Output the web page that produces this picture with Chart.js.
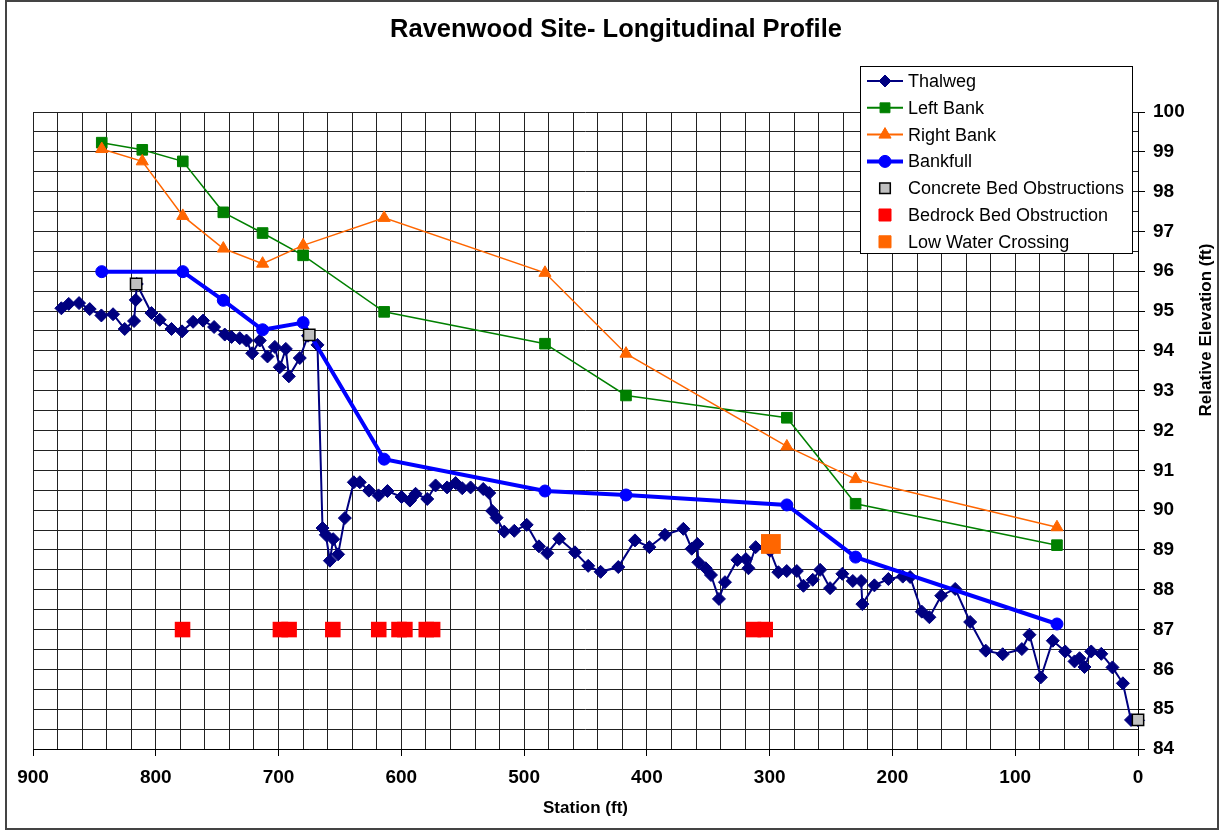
<!DOCTYPE html>
<html>
<head>
<meta charset="utf-8">
<script src="https://cdn.jsdelivr.net/npm/chart.js@4.4.1/dist/chart.umd.min.js"></script>
<style>
  html, body { margin: 0; padding: 0; background: #fff; }
  canvas { display: block; }
</style>
</head>
<body>
<canvas id="profileChart" width="1223" height="832"></canvas>
<script>
// Thalweg survey (station ft, relative elevation ft)
const thalwegStation = [
  876.9, 870.9, 862.5, 853.8, 844.3, 834.8, 825.3, 817.7, 816.3, 815.5,
  803.5, 796.8, 787.2, 778.6, 769.6, 761.5, 752.5, 743.8, 738.3, 731.6,
  726.1, 721.5, 715.3, 709.0, 703.0, 699.0, 694.1, 691.6, 682.7, 676.0,
  668.3, 664.2, 661.5, 658.2, 655.5, 651.5, 646.0, 638.7, 633.8, 626.4,
  618.6, 611.3, 599.8, 593.0, 588.4, 578.9, 572.1, 562.7, 555.8, 550.4,
  543.6, 533.3, 528.4, 526.0, 522.4, 516.2, 508.0, 497.9, 487.9, 481.2,
  471.4, 458.6, 447.8, 437.7, 423.3, 409.7, 398.0, 385.3, 370.3, 363.5,
  358.9, 358.1, 352.1, 347.8, 341.3, 336.4, 326.3, 319.4, 317.3, 311.4,
  299.7, 292.9, 286.1, 277.9, 272.5, 264.9, 258.9, 250.8, 240.8, 232.3,
  225.5, 224.5, 214.7, 203.3, 191.6, 185.6, 176.1, 169.9, 160.3, 148.9,
  136.7, 124.0, 110.2, 94.6, 88.4, 79.1, 69.4, 59.3, 51.7, 47.6,
  43.6, 38.1, 29.9, 20.8, 12.3, 5.7, 0
];
const thalwegElev = [
  95.07, 95.18, 95.20, 95.05, 94.89, 94.92, 94.55, 94.75, 95.28, 95.68,
  94.95, 94.78, 94.55, 94.49, 94.73, 94.76, 94.60, 94.41, 94.35, 94.32,
  94.26, 93.94, 94.26, 93.86, 94.10, 93.59, 94.05, 93.36, 93.82, 94.38,
  94.15, 89.55, 89.38, 88.73, 89.27, 88.89, 89.80, 90.70, 90.70, 90.49,
  90.37, 90.48, 90.33, 90.24, 90.41, 90.28, 90.62, 90.57, 90.68, 90.55,
  90.57, 90.53, 90.43, 89.98, 89.81, 89.46, 89.48, 89.63, 89.09, 88.92,
  89.28, 88.94, 88.60, 88.45, 88.57, 89.24, 89.07, 89.38, 89.53, 89.03,
  89.15, 88.69, 88.54, 88.37, 87.77, 88.19, 88.75, 88.77, 88.54, 89.07,
  88.98, 88.44, 88.47, 88.47, 88.10, 88.25, 88.50, 88.04, 88.40, 88.22,
  88.22, 87.64, 88.11, 88.27, 88.33, 88.32, 87.45, 87.31, 87.85, 88.02,
  87.19, 86.47, 86.38, 86.51, 86.87, 85.80, 86.72, 86.45, 86.20, 86.28,
  86.06, 86.45, 86.39, 86.05, 85.65, 84.73, 84.72
];

// Bank survey stations
const bankStation = [844, 811, 778, 745, 713, 680, 614, 483, 417, 286, 230, 66];
const leftBankElev = [99.23, 99.05, 98.76, 97.48, 96.96, 96.40, 94.98, 94.18, 92.88, 92.32, 90.16, 89.12];
const rightBankElev = [99.07, 98.76, 97.39, 96.57, 96.19, 96.65, 97.34, 95.96, 93.93, 91.60, 90.78, 89.57];

const bankfullStation = [844, 778, 745, 713, 680, 614, 483, 417, 286, 230, 66];
const bankfullElev = [95.99, 95.99, 95.27, 94.53, 94.71, 91.28, 90.48, 90.38, 90.13, 88.82, 87.14];

// Obstructions
const concreteStation = [816, 675, 0];
const concreteElev = [95.68, 94.40, 84.73];
const bedrockStation = [778.2, 698.5, 691.4, 655.8, 618.4, 601.9, 597.1, 579.7, 574.5, 313.2, 303.6];
const bedrockElev = [87, 87, 87, 87, 87, 87, 87, 87, 87, 87, 87];
const lowWaterStation = [299];
const lowWaterElev = [89.15];

// Axis tick labels
const stationTicks = [900, 800, 700, 600, 500, 400, 300, 200, 100, 0];
const elevationTicks = [84, 85, 86, 87, 88, 89, 90, 91, 92, 93, 94, 95, 96, 97, 98, 99, 100];

const FONT = "'Liberation Sans', Arial, sans-serif";

function toPoints(xs, ys) {
    return xs.map((x, i) => ({ x: x, y: ys[i] }));
}

// Legend entries (drawn inside the plot like the original)
const legendItems = [
    { label: 'Thalweg', line: '#000080', lineWidth: 2, style: 'rectRot', radius: 6, fill: '#000080', stroke: '#000080' },
    { label: 'Left Bank', line: '#008000', lineWidth: 2, style: 'rect', radius: 7, fill: '#008000', stroke: '#008000' },
    { label: 'Right Bank', line: '#FF6600', lineWidth: 2, style: 'triangle', radius: 7, fill: '#FF6600', stroke: '#FF6600' },
    { label: 'Bankfull', line: '#0000FF', lineWidth: 4, style: 'circle', radius: 6, fill: '#0000FF', stroke: '#0000FF' },
    { label: 'Concrete Bed Obstructions', line: null, style: 'rect', radius: 7.5, fill: '#C0C0C0', stroke: '#000', borderWidth: 1.5 },
    { label: 'Bedrock Bed Obstruction', line: null, style: 'rect', radius: 8.5, fill: '#FF0000', stroke: '#FF0000' },
    { label: 'Low Water Crossing', line: null, style: 'rect', radius: 8.5, fill: '#FF6600', stroke: '#FF6600' }
];

const decorPlugin = {
    id: 'decor',
    beforeDraw(chart) {
        const ctx = chart.ctx;
        ctx.save();
        ctx.fillStyle = '#fff';
        ctx.fillRect(0, 0, chart.width, chart.height);
        ctx.restore();
    },
    afterDraw(chart) {
        const ctx = chart.ctx;
        const area = chart.chartArea;
        ctx.save();

        // outer frame
        ctx.strokeStyle = '#444';
        ctx.lineWidth = 2;
        ctx.strokeRect(6, 1, 1212, 828);

        // title
        ctx.fillStyle = '#000';
        ctx.textAlign = 'center';
        ctx.textBaseline = 'middle';
        ctx.font = 'bold 25.5px ' + FONT;
        ctx.fillText('Ravenwood Site- Longitudinal Profile', 616, 30);

        // axis titles
        ctx.font = 'bold 17px ' + FONT;
        ctx.fillText('Station (ft)', (area.left + area.right) / 2, 808);
        ctx.save();
        ctx.translate(1206, 330);
        ctx.rotate(-Math.PI / 2);
        ctx.fillText('Relative Elevation (ft)', 0, 0);
        ctx.restore();

        // legend box
        ctx.fillStyle = '#fff';
        ctx.fillRect(860, 66, 273, 188);
        ctx.strokeStyle = '#000';
        ctx.lineWidth = 1;
        ctx.strokeRect(860.5, 66.5, 272, 187);

        ctx.font = '18px ' + FONT;
        ctx.textAlign = 'left';
        legendItems.forEach((item, i) => {
            const y = 81 + i * 26.8;
            if (item.line) {
                ctx.strokeStyle = item.line;
                ctx.lineWidth = item.lineWidth;
                ctx.beginPath();
                ctx.moveTo(867, y);
                ctx.lineTo(903, y);
                ctx.stroke();
            }
            ctx.fillStyle = item.fill;
            ctx.strokeStyle = item.stroke;
            ctx.lineWidth = item.borderWidth || 1;
            Chart.helpers.drawPoint(ctx, {
                pointStyle: item.style,
                radius: item.radius,
                rotation: 0,
                borderWidth: item.borderWidth || 1
            }, 885, y);
            ctx.fillStyle = '#000';
            ctx.fillText(item.label, 908, y + 1);
        });

        ctx.restore();
    }
};

function createProfileChart() {
    const ctx = document.getElementById('profileChart');

    new Chart(ctx, {
        type: 'scatter',
        data: {
            datasets: [
                {
                    label: 'Thalweg',
                    data: toPoints(thalwegStation, thalwegElev),
                    showLine: true,
                    clip: false,
                    borderColor: '#000080',
                    borderWidth: 2,
                    backgroundColor: '#000080',
                    pointStyle: 'rectRot',
                    pointRadius: 6.5,
                    pointBorderWidth: 1,
                    order: 7
                },
                {
                    label: 'Left Bank',
                    data: toPoints(bankStation, leftBankElev),
                    showLine: true,
                    clip: false,
                    borderColor: '#008000',
                    borderWidth: 1.5,
                    backgroundColor: '#008000',
                    pointStyle: 'rect',
                    pointRadius: 7.5,
                    pointBorderWidth: 1,
                    order: 6
                },
                {
                    label: 'Right Bank',
                    data: toPoints(bankStation, rightBankElev),
                    showLine: true,
                    clip: false,
                    borderColor: '#FF6600',
                    borderWidth: 1.5,
                    backgroundColor: '#FF6600',
                    pointStyle: 'triangle',
                    pointRadius: 7,
                    pointBorderWidth: 1,
                    order: 5
                },
                {
                    label: 'Bankfull',
                    data: toPoints(bankfullStation, bankfullElev),
                    showLine: true,
                    clip: false,
                    borderColor: '#0000FF',
                    borderWidth: 4,
                    backgroundColor: '#0000FF',
                    pointStyle: 'circle',
                    pointRadius: 6,
                    pointBorderWidth: 1,
                    order: 4
                },
                {
                    label: 'Concrete Bed Obstructions',
                    data: toPoints(concreteStation, concreteElev),
                    clip: false,
                    backgroundColor: '#C0C0C0',
                    borderColor: '#000',
                    pointStyle: 'rect',
                    pointRadius: 8,
                    pointBorderWidth: 1.5,
                    order: 3
                },
                {
                    label: 'Bedrock Bed Obstruction',
                    data: toPoints(bedrockStation, bedrockElev),
                    clip: false,
                    backgroundColor: '#FF0000',
                    borderColor: '#FF0000',
                    pointStyle: 'rect',
                    pointRadius: 11,
                    pointBorderWidth: 0,
                    order: 2
                },
                {
                    label: 'Low Water Crossing',
                    data: toPoints(lowWaterStation, lowWaterElev),
                    clip: false,
                    backgroundColor: '#FF6600',
                    borderColor: '#FF6600',
                    pointStyle: 'rect',
                    pointRadius: 14,
                    pointBorderWidth: 0,
                    order: 1
                }
            ]
        },
        options: {
            responsive: false,
            animation: false,
            devicePixelRatio: 1,
            layout: {
                padding: { left: 33, top: 112, right: 0, bottom: 0 }
            },
            plugins: {
                legend: { display: false },
                title: { display: false },
                tooltip: { enabled: false }
            },
            scales: {
                x: {
                    type: 'linear',
                    reverse: true,
                    min: 0,
                    max: 900,
                    afterFit: (scale) => { scale.height = 83; },
                    border: { color: '#000', width: 1 },
                    grid: {
                        color: '#222',
                        lineWidth: 1,
                        tickLength: 7,
                        tickColor: (c) => stationTicks.includes(Math.round(c.tick.value)) ? '#000' : 'rgba(0,0,0,0)'
                    },
                    ticks: {
                        stepSize: 20,
                        autoSkip: false,
                        maxRotation: 0,
                        padding: 10,
                        color: '#000',
                        font: { family: FONT, size: 19, weight: 'bold' },
                        callback: (v) => stationTicks.includes(Math.round(v)) ? String(Math.round(v)) : ''
                    }
                },
                y: {
                    type: 'linear',
                    position: 'right',
                    min: 84,
                    max: 100,
                    afterFit: (scale) => { scale.width = 85; },
                    border: { color: '#000', width: 1 },
                    grid: {
                        color: '#222',
                        lineWidth: 1,
                        tickLength: 7,
                        tickColor: (c) => elevationTicks.includes(c.tick.value) ? '#000' : 'rgba(0,0,0,0)'
                    },
                    ticks: {
                        stepSize: 0.5,
                        autoSkip: false,
                        padding: 8,
                        color: '#000',
                        font: { family: FONT, size: 19, weight: 'bold' },
                        callback: (v) => elevationTicks.includes(v) ? String(v) : ''
                    }
                }
            }
        },
        plugins: [decorPlugin]
    });
}

document.addEventListener('DOMContentLoaded', () => {
    createProfileChart();
});
</script>
</body>
</html>
